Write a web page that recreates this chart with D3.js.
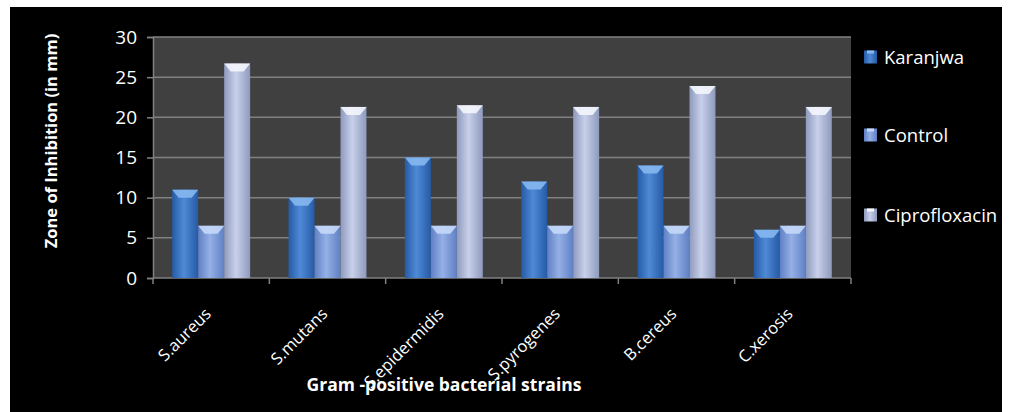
<!DOCTYPE html>
<html>
<head>
<meta charset="utf-8">
<script src="https://cdn.jsdelivr.net/npm/d3@7"></script>
<style>
html,body{margin:0;padding:0;background:#fff;}
svg{display:block;}
text{font-family:"Open Sans",sans-serif;fill:#fff;}
</style>
</head>
<body>
<svg id="chart" width="1014" height="412"></svg>
<script>
const categories = ["S.aureus","S.mutans","S.epidermidis","S.pyrogenes","B.cereus","C.xerosis"];
const seriesNames = ["Karanjwa","Control","Ciprofloxacin"];
const karanjwa = [11, 10, 15, 12, 14, 6];
const control = [6.5, 6.5, 6.5, 6.5, 6.5, 6.5];
const ciprofloxacin = [26.7, 21.3, 21.5, 21.3, 23.9, 21.3];
const yTicks = [0, 5, 10, 15, 20, 25, 30];
const yTitle = "Zone of Inhibition (in mm)";
const xTitle = "Gram -positive bacterial strains";

(function(){
const seriesValues = [karanjwa, control, ciprofloxacin];
const colors = [
  {dark:"#255aa6", light:"#4f8ad6", cap:"#86b8f0"},
  {dark:"#5f80c4", light:"#95b0e6", cap:"#c4d8f8"},
  {dark:"#8e9abd", light:"#c8d0ea", cap:"#f4f6fc"}
];

const svg = d3.select("#chart");
const defs = svg.append("defs");
colors.forEach((c,i)=>{
  const g = defs.append("linearGradient").attr("id","g"+i).attr("x1","0").attr("x2","1").attr("y1","0").attr("y2","0");
  g.append("stop").attr("offset","0%").attr("stop-color",c.dark);
  g.append("stop").attr("offset","45%").attr("stop-color",c.light);
  g.append("stop").attr("offset","100%").attr("stop-color",c.dark);
});

svg.append("rect").attr("x",10).attr("y",7).attr("width",992).attr("height",405).attr("fill","#000");

const pl = 153, pr = 851, pt = 37, pb = 278;
const x = d3.scaleBand().domain(categories).range([pl,pr]).paddingInner(0.33).paddingOuter(0.165);
const xs = d3.scaleBand().domain(d3.range(3)).range([0,x.bandwidth()]);
const y = d3.scaleLinear().domain([0,30]).range([pb,pt]);

svg.append("rect").attr("x",pl).attr("y",pt).attr("width",pr-pl).attr("height",pb-pt).attr("fill","#404040");

svg.append("g").selectAll("line").data(yTicks.filter(t=>t>0)).join("line")
  .attr("x1",pl).attr("x2",pr).attr("y1",d=>y(d)).attr("y2",d=>y(d))
  .attr("stroke","#808080").attr("stroke-width",1.5);

const yAxis = svg.append("g").attr("transform",`translate(${pl},0)`)
  .call(d3.axisLeft(y).tickValues(yTicks).tickSize(6).tickPadding(10));
yAxis.select(".domain").attr("stroke","#808080").attr("stroke-width",1.5);
yAxis.selectAll(".tick line").attr("stroke","#808080").attr("stroke-width",1.5);
yAxis.selectAll(".tick text").attr("fill","#fff").style("font-size","19px").style("font-family","'Open Sans',sans-serif");

const edges = d3.range(categories.length+1).map(i=> pl + i*(pr-pl)/categories.length);
svg.append("line").attr("x1",pl).attr("x2",pr).attr("y1",pb).attr("y2",pb).attr("stroke","#808080").attr("stroke-width",1.5);
svg.append("g").selectAll("line").data(edges).join("line")
  .attr("x1",d=>d).attr("x2",d=>d).attr("y1",pb).attr("y2",pb+6)
  .attr("stroke","#808080").attr("stroke-width",1.5);

const groups = svg.append("g").selectAll("g").data(categories).join("g")
  .attr("transform",d=>`translate(${x(d)},0)`);
groups.each(function(cat,ci){
  const g = d3.select(this);
  seriesValues.forEach((vals,si)=>{
    const v = vals[ci];
    const bx = xs(si), bw = xs.bandwidth();
    const ty = y(v);
    g.append("rect").attr("x",bx).attr("y",ty).attr("width",bw).attr("height",pb-ty).attr("fill",`url(#g${si})`);
    const capH = 8;
    g.append("path")
      .attr("d",`M${bx},${ty} L${bx+bw},${ty} L${bx+bw*0.75},${ty+capH} L${bx+bw*0.25},${ty+capH} Z`)
      .attr("fill",colors[si].cap).attr("opacity",0.9);
  });
});

svg.append("g").selectAll("text").data(categories).join("text")
  .attr("transform",d=>`translate(${x(d)+x.bandwidth()/2+1},${pb+37}) rotate(-45)`)
  .attr("text-anchor","end").style("font-size","16.5px").text(d=>d);

svg.append("text").attr("transform",`translate(57,141) rotate(-90)`)
  .attr("text-anchor","middle").style("font-size","16.5px").style("font-weight","bold").text(yTitle);
svg.append("text").attr("x",444).attr("y",391).attr("text-anchor","middle")
  .style("font-size","17.5px").style("font-weight","bold").text(xTitle);

const legY = [57,135,215];
const leg = svg.append("g").selectAll("g").data(seriesNames).join("g")
  .attr("transform",(d,i)=>`translate(864,${legY[i]})`);
leg.append("rect").attr("x",0).attr("y",-6.5).attr("width",13).attr("height",13).attr("fill",(d,i)=>`url(#g${i})`);
leg.append("rect").attr("x",3).attr("y",-6.5).attr("width",7).attr("height",3).attr("fill",(d,i)=>colors[i].cap);
leg.append("text").attr("x",20).attr("y",6.5).style("font-size","18.5px").text(d=>d);
})();
</script>
</body>
</html>
